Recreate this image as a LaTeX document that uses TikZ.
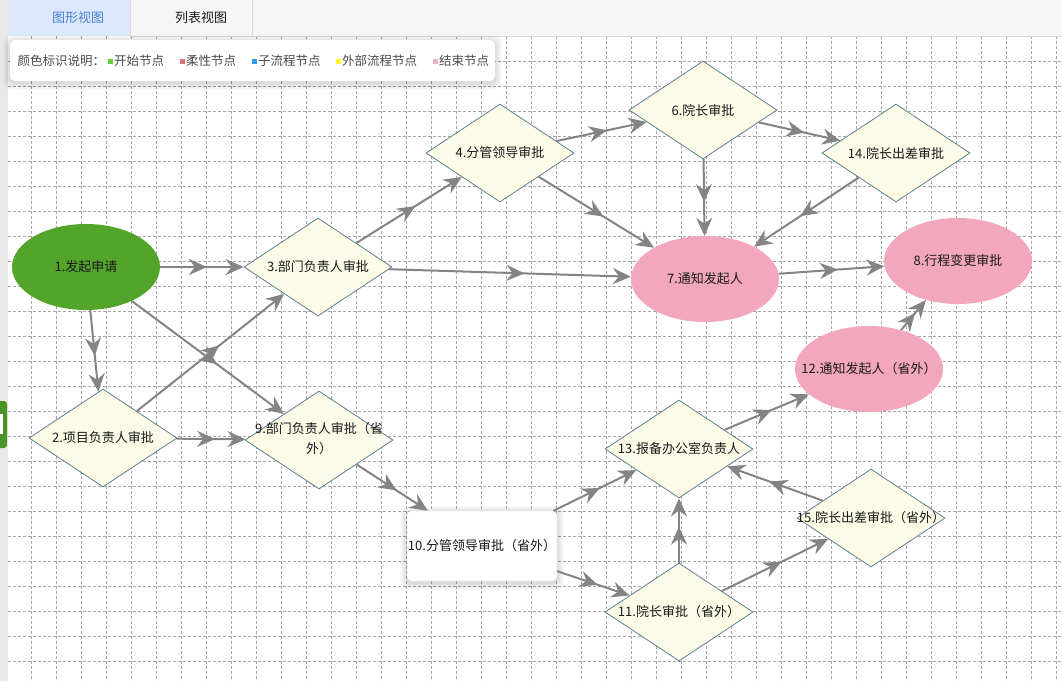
\documentclass[tikz,border=0pt]{standalone}
\usepackage{fontspec}
\setmainfont{Noto Sans CJK SC}
\usetikzlibrary{arrows.meta,shapes.geometric,decorations.markings}

\definecolor{gridgray}{HTML}{A6A6A6}
\definecolor{linkgray}{HTML}{848484}
\definecolor{diafill}{HTML}{FBFBE8}
\definecolor{diaborder}{HTML}{5F8090}
\definecolor{startgreen}{HTML}{52A52A}
\definecolor{endpink}{HTML}{F2A7BD}
\definecolor{tabblue}{HTML}{DCE8FB}
\definecolor{tabtext}{HTML}{4A80D8}
\definecolor{bargray}{HTML}{F6F6F6}
\definecolor{legendtext}{HTML}{4A4A4A}
\definecolor{keygreen}{HTML}{66CC33}
\definecolor{keyred}{HTML}{E07272}
\definecolor{keyblue}{HTML}{3399EE}
\definecolor{keyyellow}{HTML}{FFF533}
\definecolor{keypink}{HTML}{EEB0C8}

\newcommand{\nowidth}[1]{\makebox[0pt]{#1}}

\begin{document}
\begin{tikzpicture}[x=1pt, y=-1pt, >=Stealth,
	every node/.style={font=\fontsize{13}{16}\selectfont, text=black!90},
	decision/.style={diamond, draw=diaborder, fill=diafill, line width=0.8pt, minimum width=148pt, minimum height=98pt, inner sep=0pt},
	startnode/.style={ellipse, fill=startgreen, minimum width=148pt, minimum height=86pt, inner sep=0pt},
	endnode/.style={ellipse, fill=endpink, minimum width=148pt, minimum height=86pt, inner sep=0pt},
	link/.style={linkgray, line width=2pt, -{Stealth[length=18pt,width=16pt,inset=6pt]}, postaction={decorate},
			decoration={markings, mark=at position 0.56 with {\arrow{Stealth[length=18pt,width=16pt,inset=6pt]}}}}]
	\useasboundingbox (0,0) rectangle (1062,681);
	\fill[white] (0,0) rectangle (1062,681);

	% grid
	\foreach \x in {1,...,42}{
			\draw[gridgray, dash pattern=on 2.5pt off 2.5pt, line width=0.7pt] (6+25*\x,36) -- (6+25*\x,681);
		}
	\foreach \y in {0,...,24}{
			\draw[gridgray, dash pattern=on 2.5pt off 2.5pt, line width=0.7pt] (8,61+25*\y) -- (1062,61+25*\y);
		}

	% tabs and side bar
	\fill[bargray] (0,0) rectangle (1062,36);
	\fill[tabblue] (8,0) rectangle (130,36);
	\draw[black!15] (130,0) -- (130,36) (252,0) -- (252,36) (130,36) -- (1062,36);
	\fill[black!9] (0,0) rectangle (8,681);
	\fill[startgreen!90!black, rounded corners=3pt] (-6,401) rectangle (7,448);
	\fill[white] (-2,414) rectangle (3,434);
	\node[text=tabtext] (tabgraph) at (78,18) {图形视图};
	\node (tablist) at (201,18) {列表视图};

	% legend
	\foreach \s in {1,...,7}{
			\fill[black, opacity=0.02, rounded corners=8pt] (10-\s,42-\s) rectangle (495+\s,83+\s);
		}
	\fill[white, rounded corners=5pt] (10,40) rectangle (495,81);
	\node[anchor=west, text=legendtext, font=\fontsize{12.5}{15}\selectfont] (legendtitle) at (14,61) {颜色标识说明：};
	\foreach \c/\t/\x [count=\i] in {keygreen/开始节点/108, keyred/柔性节点/180, keyblue/子流程节点/252, keyyellow/外部流程节点/336, keypink/结束节点/433}{
			\fill[\c] (\x,59) rectangle +(5,5);
			\node[anchor=west, inner sep=0pt, text=legendtext, font=\fontsize{12.5}{15}\selectfont] (legend\i) at (\x+6,61) {\t};
		}

	% nodes
	\node[startnode] (apply) at (86,267) {1.发起申请};
	\node[decision] (proj) at (103,438) {\nowidth{2.项目负责人审批}};
	\node[decision] (dept) at (318,267) {\nowidth{3.部门负责人审批}};
	\node[decision] (lead) at (500,153) {\nowidth{4.分管领导审批}};
	\node[decision] (dean) at (703,110) {\nowidth{6.院长审批}};
	\node[endnode] (notify) at (705,279) {7.通知发起人};
	\node[endnode] (change) at (958,261) {8.行程变更审批};
	\node[decision] (deptout) at (319,440) {\nowidth{\begin{tabular}{@{}c@{}}9.部门负责人审批（省\\[4pt]外）\end{tabular}}};
	\foreach \s in {1,...,7}{
			\fill[black, opacity=0.02, rounded corners=8pt] (407-\s,513-\s) rectangle (557+\s,583+\s);
		}
	\node[draw=black!15, fill=white, rounded corners=4pt, minimum width=150pt, minimum height=70pt, inner sep=0pt] (leadout) at (482,546) {10.分管领导审批（省外）};
	\node[decision] (deanout) at (679,612) {\nowidth{11.院长审批（省外）}};
	\node[endnode] (notifyout) at (869,369) {\nowidth{12.通知发起人（省外）}};
	\node[decision] (filing) at (679,449) {\nowidth{13.报备办公室负责人}};
	\node[decision] (deantrip) at (896,153) {\nowidth{14.院长出差审批}};
	\node[decision] (deantripout) at (871,518) {\nowidth{15.院长出差审批（省外）}};

	% connectors
	\foreach \a/\b in {apply/proj, apply/dept, apply/deptout, proj/dept, proj/deptout, dept/lead, dept/notify, lead/dean, lead/notify, dean/notify, dean/deantrip, deantrip/notify, notify/change, notifyout/change, deptout/leadout, leadout/filing, leadout/deanout, deanout/filing, deanout/deantripout, deantripout/filing, filing/notifyout}{
			\draw[link] (\a) -- (\b);
		}
\end{tikzpicture}
\end{document}
